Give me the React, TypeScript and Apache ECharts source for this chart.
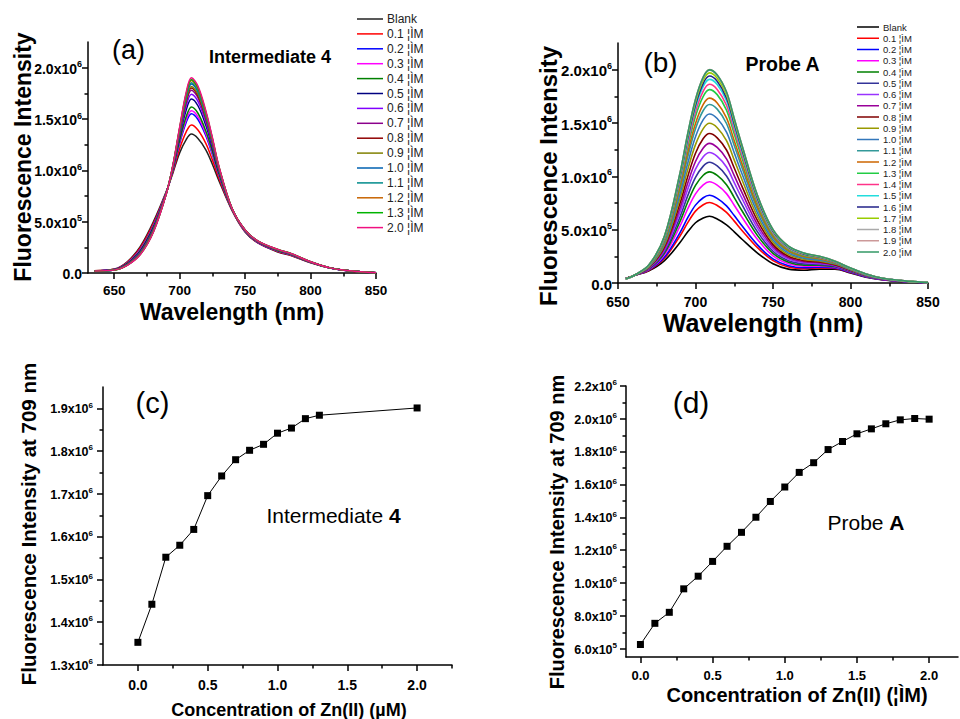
import React, { useEffect, useRef } from 'react';
import * as echarts from 'echarts';

const FONT = "'Liberation Sans', Arial, sans-serif";

// ---------- (a) Intermediate 4 spectra (intensity in 1e5 units) ----------
const WL_A = [635, 650, 660, 670, 680, 690, 695, 700, 705, 709, 714, 720, 725, 730, 740, 750, 760, 775, 785, 800, 815, 830, 850];
const NAMES_A = ['Blank', '0.1 ¦ÌM', '0.2 ¦ÌM', '0.3 ¦ÌM', '0.4 ¦ÌM', '0.5 ¦ÌM', '0.6 ¦ÌM', '0.7 ¦ÌM', '0.8 ¦ÌM', '0.9 ¦ÌM', '1.0 ¦ÌM', '1.1 ¦ÌM', '1.2 ¦ÌM', '1.3 ¦ÌM', '2.0 ¦ÌM'];
const COLORS_A = ['#222222', '#ff0000', '#0000ff', '#ff00ff', '#008000', '#000080', '#8000ff', '#8b008b', '#900000', '#808000', '#0060b0', '#008b8b', '#c86400', '#00b400', '#f01080'];
const SPEC_A = [
  [0.22, 0.38, 1.1, 2.6, 5.0, 8.0, 9.8, 11.7, 13.0, 13.53, 13.1, 12.0, 10.6, 9.0, 6.1, 4.0, 2.9, 2.05, 1.7, 1.0, 0.48, 0.2, 0.03],
  [0.22, 0.36, 1.04, 2.47, 4.84, 7.97, 9.93, 12.11, 13.75, 14.42, 13.93, 12.62, 11.02, 9.23, 6.13, 4.03, 2.93, 2.09, 1.73, 1.02, 0.48, 0.2, 0.03],
  [0.21, 0.34, 0.97, 2.31, 4.64, 7.93, 10.09, 12.61, 14.67, 15.52, 14.95, 13.38, 11.54, 9.51, 6.17, 4.07, 2.97, 2.14, 1.77, 1.04, 0.49, 0.21, 0.03],
  [0.21, 0.34, 0.96, 2.27, 4.59, 7.92, 10.13, 12.74, 14.9, 15.8, 15.21, 13.57, 11.68, 9.58, 6.18, 4.08, 2.98, 2.15, 1.78, 1.04, 0.49, 0.21, 0.03],
  [0.21, 0.33, 0.93, 2.21, 4.52, 7.9, 10.19, 12.91, 15.22, 16.17, 15.56, 13.83, 11.85, 9.67, 6.2, 4.1, 3.0, 2.17, 1.8, 1.05, 0.49, 0.21, 0.03],
  [0.21, 0.32, 0.88, 2.1, 4.37, 7.87, 10.3, 13.27, 15.88, 16.96, 16.29, 14.38, 12.23, 9.88, 6.23, 4.13, 3.03, 2.21, 1.83, 1.06, 0.49, 0.21, 0.03],
  [0.21, 0.31, 0.85, 2.03, 4.29, 7.86, 10.37, 13.48, 16.27, 17.42, 16.72, 14.7, 12.45, 9.99, 6.24, 4.14, 3.04, 2.23, 1.84, 1.07, 0.49, 0.21, 0.03],
  [0.2, 0.3, 0.83, 1.98, 4.22, 7.84, 10.42, 13.65, 16.58, 17.8, 17.07, 14.96, 12.63, 10.09, 6.26, 4.16, 3.06, 2.24, 1.86, 1.08, 0.5, 0.21, 0.03],
  [0.2, 0.3, 0.81, 1.94, 4.18, 7.84, 10.46, 13.75, 16.77, 18.02, 17.28, 15.11, 12.73, 10.15, 6.26, 4.16, 3.06, 2.25, 1.86, 1.08, 0.5, 0.22, 0.03],
  [0.2, 0.3, 0.8, 1.92, 4.16, 7.83, 10.48, 13.81, 16.89, 18.16, 17.41, 15.21, 12.8, 10.18, 6.27, 4.17, 3.07, 2.26, 1.87, 1.08, 0.5, 0.22, 0.03],
  [0.2, 0.29, 0.79, 1.89, 4.11, 7.82, 10.51, 13.93, 17.1, 18.42, 17.65, 15.39, 12.92, 10.25, 6.28, 4.18, 3.08, 2.27, 1.88, 1.09, 0.5, 0.22, 0.03],
  [0.2, 0.29, 0.78, 1.87, 4.09, 7.82, 10.53, 13.99, 17.2, 18.54, 17.76, 15.47, 12.98, 10.28, 6.28, 4.18, 3.08, 2.28, 1.88, 1.09, 0.5, 0.22, 0.03],
  [0.2, 0.28, 0.77, 1.84, 4.05, 7.81, 10.56, 14.09, 17.39, 18.76, 17.97, 15.63, 13.08, 10.34, 6.29, 4.19, 3.09, 2.29, 1.89, 1.1, 0.5, 0.22, 0.03],
  [0.2, 0.28, 0.76, 1.82, 4.03, 7.81, 10.58, 14.12, 17.46, 18.84, 18.04, 15.68, 13.12, 10.36, 6.3, 4.2, 3.1, 2.29, 1.9, 1.1, 0.5, 0.22, 0.03],
  [0.2, 0.28, 0.75, 1.8, 4.0, 7.8, 10.6, 14.2, 17.6, 19.01, 18.2, 15.8, 13.2, 10.4, 6.3, 4.2, 3.1, 2.3, 1.9, 1.1, 0.5, 0.22, 0.03],
];

// ---------- (b) Probe A spectra (intensity in 1e5 units) ----------
const WL_B = [655, 660, 670, 680, 690, 695, 700, 705, 709, 714, 720, 725, 730, 740, 750, 760, 770, 780, 790, 800, 810, 820, 835, 850];
const NAMES_B = ['Blank', '0.1 ¦ÌM', '0.2 ¦ÌM', '0.3 ¦ÌM', '0.4 ¦ÌM', '0.5 ¦ÌM', '0.6 ¦ÌM', '0.7 ¦ÌM', '0.8 ¦ÌM', '0.9 ¦ÌM', '1.0 ¦ÌM', '1.1 ¦ÌM', '1.2 ¦ÌM', '1.3 ¦ÌM', '1.4 ¦ÌM', '1.5 ¦ÌM', '1.6 ¦ÌM', '1.7 ¦ÌM', '1.8 ¦ÌM', '1.9 ¦ÌM', '2.0 ¦ÌM'];
const COLORS_B = ['#000000', '#ff0000', '#0000ff', '#ff00ff', '#008000', '#333399', '#9933ff', '#990099', '#800000', '#999900', '#3377bb', '#339999', '#cc6600', '#22cc44', '#ff3388', '#22dddd', '#222288', '#99cc00', '#aaaaaa', '#cc9999', '#339966'];
const SPEC_B = [
  [0.42, 0.68, 1.15, 2.1, 3.8, 4.8, 5.65, 6.1, 6.26, 6.0, 5.45, 4.8, 4.1, 2.8, 1.8, 1.3, 1.2, 1.3, 1.3, 0.95, 0.55, 0.32, 0.12, 0.03],
  [0.42, 0.68, 1.2, 2.32, 4.41, 5.66, 6.74, 7.34, 7.55, 7.27, 6.62, 5.8, 4.93, 3.31, 2.1, 1.5, 1.35, 1.41, 1.37, 0.99, 0.58, 0.33, 0.13, 0.03],
  [0.41, 0.68, 1.23, 2.43, 4.73, 6.12, 7.3, 7.99, 8.22, 7.93, 7.23, 6.32, 5.36, 3.57, 2.26, 1.61, 1.43, 1.47, 1.41, 1.01, 0.59, 0.34, 0.13, 0.03],
  [0.41, 0.68, 1.28, 2.64, 5.33, 6.96, 8.36, 9.2, 9.49, 9.17, 8.38, 7.29, 6.17, 4.07, 2.55, 1.81, 1.58, 1.58, 1.48, 1.06, 0.62, 0.36, 0.14, 0.03],
  [0.41, 0.68, 1.32, 2.8, 5.77, 7.59, 9.15, 10.1, 10.42, 10.09, 9.22, 8.01, 6.77, 4.44, 2.77, 1.95, 1.68, 1.66, 1.53, 1.09, 0.64, 0.37, 0.14, 0.04],
  [0.41, 0.68, 1.35, 2.95, 6.19, 8.19, 9.9, 10.96, 11.32, 10.97, 10.03, 8.7, 7.34, 4.79, 2.98, 2.09, 1.79, 1.74, 1.58, 1.12, 0.66, 0.38, 0.15, 0.04],
  [0.4, 0.68, 1.39, 3.1, 6.63, 8.8, 10.67, 11.84, 12.24, 11.87, 10.87, 9.41, 7.93, 5.15, 3.19, 2.24, 1.9, 1.82, 1.63, 1.15, 0.68, 0.39, 0.15, 0.04],
  [0.4, 0.68, 1.42, 3.24, 7.03, 9.37, 11.39, 12.66, 13.09, 12.71, 11.64, 10.07, 8.47, 5.48, 3.39, 2.37, 2.0, 1.9, 1.67, 1.17, 0.7, 0.39, 0.16, 0.04],
  [0.4, 0.68, 1.46, 3.4, 7.47, 9.99, 12.16, 13.54, 14.01, 13.61, 12.47, 10.78, 9.06, 5.85, 3.6, 2.51, 2.1, 1.98, 1.72, 1.2, 0.72, 0.4, 0.17, 0.04],
  [0.4, 0.68, 1.5, 3.56, 7.92, 10.63, 12.97, 14.47, 14.97, 14.56, 13.34, 11.52, 9.68, 6.22, 3.83, 2.66, 2.21, 2.06, 1.78, 1.24, 0.74, 0.42, 0.17, 0.04],
  [0.39, 0.68, 1.53, 3.71, 8.34, 11.22, 13.71, 15.31, 15.85, 15.42, 14.14, 12.2, 10.24, 6.57, 4.03, 2.8, 2.32, 2.14, 1.82, 1.26, 0.76, 0.42, 0.18, 0.04],
  [0.39, 0.68, 1.57, 3.85, 8.76, 11.82, 14.46, 16.17, 16.74, 16.3, 14.95, 12.89, 10.81, 6.92, 4.24, 2.94, 2.42, 2.22, 1.87, 1.29, 0.78, 0.43, 0.18, 0.05],
  [0.39, 0.68, 1.59, 3.95, 9.04, 12.22, 14.96, 16.74, 17.33, 16.88, 15.48, 13.34, 11.19, 7.15, 4.38, 3.03, 2.49, 2.27, 1.9, 1.31, 0.79, 0.44, 0.18, 0.05],
  [0.39, 0.68, 1.63, 4.09, 9.42, 12.75, 15.63, 17.5, 18.13, 17.66, 16.21, 13.96, 11.7, 7.47, 4.56, 3.16, 2.58, 2.34, 1.95, 1.34, 0.81, 0.45, 0.19, 0.05],
  [0.38, 0.68, 1.65, 4.17, 9.65, 13.08, 16.05, 17.98, 18.63, 18.15, 16.66, 14.34, 12.02, 7.66, 4.68, 3.24, 2.64, 2.38, 1.98, 1.36, 0.82, 0.46, 0.19, 0.05],
  [0.38, 0.68, 1.66, 4.25, 9.87, 13.39, 16.44, 18.43, 19.09, 18.61, 17.08, 14.7, 12.32, 7.84, 4.79, 3.31, 2.69, 2.42, 2.0, 1.37, 0.83, 0.46, 0.19, 0.05],
  [0.38, 0.68, 1.68, 4.3, 10.01, 13.6, 16.69, 18.72, 19.4, 18.91, 17.35, 14.93, 12.51, 7.96, 4.86, 3.36, 2.73, 2.45, 2.02, 1.38, 0.84, 0.46, 0.2, 0.05],
  [0.38, 0.68, 1.69, 4.35, 10.16, 13.8, 16.95, 19.01, 19.7, 19.2, 17.63, 15.17, 12.71, 8.08, 4.93, 3.4, 2.76, 2.47, 2.03, 1.39, 0.84, 0.47, 0.2, 0.05],
  [0.38, 0.68, 1.7, 4.39, 10.27, 13.96, 17.15, 19.25, 19.94, 19.45, 17.85, 15.36, 12.86, 8.18, 4.99, 3.44, 2.79, 2.5, 2.05, 1.4, 0.85, 0.47, 0.2, 0.05],
  [0.38, 0.68, 1.71, 4.41, 10.32, 14.02, 17.22, 19.33, 20.02, 19.52, 17.92, 15.42, 12.92, 8.22, 5.02, 3.46, 2.8, 2.5, 2.06, 1.4, 0.85, 0.47, 0.2, 0.05],
  [0.38, 0.68, 1.7, 4.4, 10.3, 14.0, 17.2, 19.3, 19.98, 19.5, 17.9, 15.4, 12.9, 8.2, 5.0, 3.45, 2.8, 2.5, 2.05, 1.4, 0.85, 0.47, 0.2, 0.05],
];

// ---------- (c) and (d) titration curves (intensity in 1e6 units) ----------
const CONC_C = [0, 0.1, 0.2, 0.3, 0.4, 0.5, 0.6, 0.7, 0.8, 0.9, 1.0, 1.1, 1.2, 1.3, 2.0];
const INT_C = [1.353, 1.442, 1.552, 1.58, 1.617, 1.696, 1.742, 1.78, 1.802, 1.816, 1.842, 1.854, 1.876, 1.884, 1.901];
const CONC_D = [0, 0.1, 0.2, 0.3, 0.4, 0.5, 0.6, 0.7, 0.8, 0.9, 1.0, 1.1, 1.2, 1.3, 1.4, 1.5, 1.6, 1.7, 1.8, 1.9, 2.0];
const INT_D = [0.626, 0.755, 0.822, 0.965, 1.042, 1.132, 1.224, 1.309, 1.401, 1.497, 1.585, 1.674, 1.733, 1.813, 1.862, 1.909, 1.939, 1.97, 1.994, 2.002, 1.998];

// ---------- tick values and labels ----------
const X_TICKS_SPEC = [650, 700, 750, 800, 850];
const X_MINOR_SPEC = [675, 725, 775, 825];
const X_LABELS_SPEC = ['650', '700', '750', '800', '850'];
const Y_TICKS_SPEC = [0, 5, 10, 15, 20];
const Y_MINOR_SPEC = [2.5, 7.5, 12.5, 17.5];
const Y_LABELS_SPEC = ['0.0', '5.0x10^5', '1.0x10^6', '1.5x10^6', '2.0x10^6'];
const X_TICKS_CONC = [0, 0.5, 1.0, 1.5, 2.0];
const X_MINOR_C = [0.25, 0.75, 1.25, 1.75, 2.25];
const X_MINOR_D = [0.25, 0.75, 1.25, 1.75];
const X_LABELS_CONC = ['0.0', '0.5', '1.0', '1.5', '2.0'];
const Y_TICKS_C = [1.3, 1.4, 1.5, 1.6, 1.7, 1.8, 1.9];
const Y_MINOR_C = [1.35, 1.45, 1.55, 1.65, 1.75, 1.85];
const Y_LABELS_C = ['1.3x10^6', '1.4x10^6', '1.5x10^6', '1.6x10^6', '1.7x10^6', '1.8x10^6', '1.9x10^6'];
const Y_TICKS_D = [0.6, 0.8, 1.0, 1.2, 1.4, 1.6, 1.8, 2.0, 2.2];
const Y_MINOR_D = [0.7, 0.9, 1.1, 1.3, 1.5, 1.7, 1.9, 2.1];
const Y_LABELS_D = ['6.0x10^5', '8.0x10^5', '1.0x10^6', '1.2x10^6', '1.4x10^6', '1.6x10^6', '1.8x10^6', '2.0x10^6', '2.2x10^6'];

type AxisSpec = {
  grid: number; min: number; max: number; ticks: number[]; minor: number[]; labels: string[];
  fontSize: number; margin: number; dim: 'x' | 'y';
};

function makeAxes(s: AxisSpec) {
  const fmt = (v: number) => {
    const i = s.ticks.findIndex((t) => Math.abs(t - v) < 1e-6);
    if (i < 0) return '';
    const parts = s.labels[i].split('^');
    return parts.length > 1 ? `{b|${parts[0]}}{s|${parts[1]}}` : `{b|${parts[0]}}`;
  };
  const lineStyle = { color: '#000', width: 1.5 };
  const base = {
    type: 'value', gridIndex: s.grid, min: s.min, max: s.max,
    position: s.dim === 'x' ? 'bottom' : 'left',
    splitLine: { show: false },
    scale: true,
  };
  const main = {
    ...base,
    axisLine: { show: true, onZero: false, lineStyle },
    axisTick: { show: true, customValues: s.ticks, length: 6, lineStyle },
    axisLabel: {
      show: true, customValues: s.ticks, formatter: fmt, margin: s.margin, color: '#000',
      rich: {
        b: { fontSize: s.fontSize, fontWeight: 'bold', fontFamily: FONT, color: '#000', lineHeight: s.fontSize + 2, verticalAlign: 'bottom' },
        s: { fontSize: Math.round(s.fontSize * 0.62), fontWeight: 'bold', fontFamily: FONT, color: '#000', lineHeight: Math.round(s.fontSize * 0.62), verticalAlign: 'top' },
      },
    },
  };
  const minor = {
    ...base,
    axisLine: { show: false, onZero: false },
    axisTick: { show: true, customValues: s.minor, length: 3.5, lineStyle },
    axisLabel: { show: false },
  };
  return [main, minor];
}

const X_AXES = [
  ...makeAxes({ grid: 0, min: 630, max: 850, ticks: X_TICKS_SPEC, minor: X_MINOR_SPEC, labels: X_LABELS_SPEC, fontSize: 13.5, margin: 9, dim: 'x' }),
  ...makeAxes({ grid: 1, min: 650, max: 850, ticks: X_TICKS_SPEC, minor: X_MINOR_SPEC, labels: X_LABELS_SPEC, fontSize: 14, margin: 10, dim: 'x' }),
  ...makeAxes({ grid: 2, min: -0.25, max: 2.25, ticks: X_TICKS_CONC, minor: X_MINOR_C, labels: X_LABELS_CONC, fontSize: 14, margin: 11, dim: 'x' }),
  ...makeAxes({ grid: 3, min: -0.1, max: 2.2, ticks: X_TICKS_CONC, minor: X_MINOR_D, labels: X_LABELS_CONC, fontSize: 13, margin: 10, dim: 'x' }),
];
const Y_AXES = [
  ...makeAxes({ grid: 0, min: 0, max: 22.5, ticks: Y_TICKS_SPEC, minor: Y_MINOR_SPEC, labels: Y_LABELS_SPEC, fontSize: 14, margin: 6, dim: 'y' }),
  ...makeAxes({ grid: 1, min: 0, max: 22.5, ticks: Y_TICKS_SPEC, minor: Y_MINOR_SPEC, labels: Y_LABELS_SPEC, fontSize: 15, margin: 6, dim: 'y' }),
  ...makeAxes({ grid: 2, min: 1.3, max: 1.95, ticks: Y_TICKS_C, minor: Y_MINOR_C, labels: Y_LABELS_C, fontSize: 12.5, margin: 10, dim: 'y' }),
  ...makeAxes({ grid: 3, min: 0.55, max: 2.2, ticks: Y_TICKS_D, minor: Y_MINOR_D, labels: Y_LABELS_D, fontSize: 12.5, margin: 9, dim: 'y' }),
];

function spectrumSeries(names: string[], colors: string[], wl: number[], rows: number[][], axisIndex: number, width: number) {
  return rows.map((row, i) => ({
    type: 'line', name: names[i], xAxisIndex: axisIndex, yAxisIndex: axisIndex,
    data: wl.map((w, j) => [w, row[j]]),
    smooth: 0.35, showSymbol: false, symbol: 'none',
    lineStyle: { color: colors[i], width },
    itemStyle: { color: colors[i] },
    z: 2 + i,
  }));
}

function titrationSeries(x: number[], y: number[], axisIndex: number) {
  return {
    type: 'line', xAxisIndex: axisIndex, yAxisIndex: axisIndex,
    data: x.map((v, i) => [v, y[i]]),
    symbol: 'rect', symbolSize: 7,
    lineStyle: { color: '#000', width: 1 },
    itemStyle: { color: '#000' },
  };
}

function txt(x: number, y: number, text: string, size: number, weight: string, extra: any = {}) {
  return {
    type: 'text', x, y, silent: true, ...extra,
    style: { text, fontSize: size, fontWeight: weight, fontFamily: FONT, fill: '#000', align: 'center', verticalAlign: 'middle', ...(extra.style || {}) },
  };
}

function legendGraphics(names: string[], colors: string[], x0: number, y0: number, gap: number, lineLen: number, fontSize: number) {
  const out: any[] = [];
  names.forEach((n, i) => {
    const y = y0 + i * gap;
    out.push({ type: 'line', silent: true, shape: { x1: x0, y1: y, x2: x0 + lineLen, y2: y }, style: { stroke: colors[i], lineWidth: 1.5 } });
    out.push({
      type: 'text', silent: true, x: x0 + lineLen + 4, y,
      style: { text: n, fontSize, fontFamily: FONT, fill: '#222', align: 'left', verticalAlign: 'middle' },
    });
  });
  return out;
}

const GRAPHICS = [
  ...legendGraphics(NAMES_A, COLORS_A, 357, 19, 14.9, 26, 12),
  ...legendGraphics(NAMES_B, COLORS_B, 857, 27, 11.25, 22, 9.5),
  txt(128.5, 50, '(a)', 27, 'normal'),
  txt(270, 57, 'Intermediate 4', 18, 'bold'),
  txt(23, 157, 'Fluorescence Intensity', 23, 'bold', { rotation: Math.PI / 2 }),
  txt(232, 312, 'Wavelength (nm)', 23, 'bold'),
  txt(660.5, 62, '(b)', 28, 'normal'),
  txt(782.5, 64, 'Probe A', 19.5, 'bold'),
  txt(548, 176, 'Fluorescence Intensity', 24, 'bold', { rotation: Math.PI / 2 }),
  txt(763, 323, 'Wavelength (nm)', 25, 'bold'),
  txt(152.5, 403, '(c)', 29, 'normal'),
  txt(333.5, 515, 'Intermediate {k|4}', 21, 'normal', { style: { rich: { k: { fontSize: 21, fontWeight: 'bold', fontFamily: FONT, fill: '#000' } } } }),
  txt(28, 524, 'Fluorescence Intensity at 709 nm', 20.5, 'bold', { rotation: Math.PI / 2 }),
  txt(289, 710, 'Concentration of Zn(II) (\u00b5M)', 18, 'bold'),
  txt(691, 402, '(d)', 30, 'normal'),
  txt(866, 522, 'Probe {k|A}', 21, 'normal', { style: { rich: { k: { fontSize: 21, fontWeight: 'bold', fontFamily: FONT, fill: '#000' } } } }),
  txt(557, 532, 'Fluorescence Intensity at 709 nm', 20, 'bold', { rotation: Math.PI / 2 }),
  txt(797, 695, 'Concentration of Zn(II) (¦ÌM)', 20, 'bold'),
];

const OPTION: any = {
  animation: false,
  backgroundColor: '#ffffff',
  textStyle: { fontFamily: FONT },
  grid: [
    { left: 88, top: 42, width: 288, height: 231, outerBoundsMode: 'none' },
    { left: 618, top: 43, width: 310, height: 240, outerBoundsMode: 'none' },
    { left: 103, top: 387, width: 349, height: 278, outerBoundsMode: 'none' },
    { left: 626, top: 386, width: 332, height: 271, outerBoundsMode: 'none' },
  ],
  xAxis: X_AXES,
  yAxis: Y_AXES,
  series: [
    ...spectrumSeries(NAMES_A, COLORS_A, WL_A, SPEC_A, 0, 1.5),
    ...spectrumSeries(NAMES_B, COLORS_B, WL_B, SPEC_B, 2, 1.6),
    titrationSeries(CONC_C, INT_C, 4),
    titrationSeries(CONC_D, INT_D, 6),
  ],
  graphic: GRAPHICS,
};

export default function App() {
  const ref = useRef<HTMLDivElement>(null);
  useEffect(() => {
    if (!ref.current) return;
    const chart = echarts.init(ref.current, null, { renderer: 'svg', width: 960, height: 719 });
    chart.setOption(OPTION);
    return () => chart.dispose();
  }, []);
  return (
    <div
      ref={ref}
      style={{ position: 'fixed', left: 0, top: 0, width: 960, height: 719, background: '#fff' }}
    />
  );
}
